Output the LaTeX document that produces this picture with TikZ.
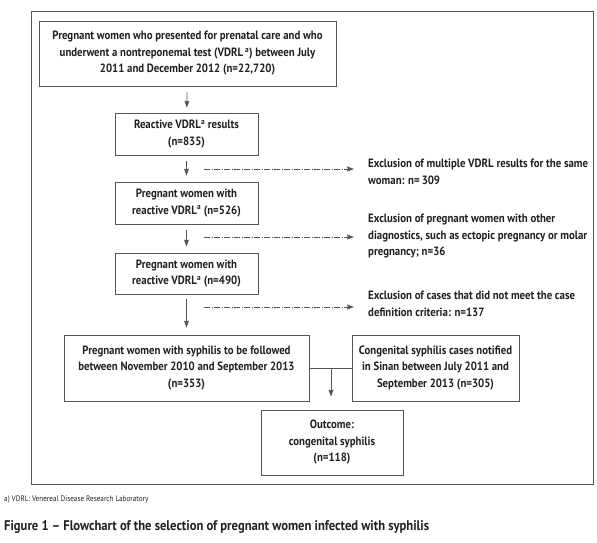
\documentclass[tikz,border=0pt]{standalone}
\usepackage{fontspec}
\setmainfont{PT Sans}[FakeStretch=0.9]
\usepackage{xcolor}
\usepackage{tikz}
\usetikzlibrary{arrows.meta,positioning,calc}
\definecolor{linegray}{HTML}{555555}
\definecolor{inktext}{HTML}{231F20}
\tikzset{
  fluxbox/.style={draw=linegray,line width=0.8pt,align=center,inner sep=0pt,text=inktext,font=\bfseries\fontsize{12}{16.5}\selectfont},
  esclab/.style={anchor=west,align=left,inner sep=0pt,text=inktext,font=\bfseries\fontsize{12}{16.8}\selectfont},
  fluxarr/.style={-{Stealth[length=7pt,width=5pt,inset=1pt]},linegray,line width=0.7pt},
  escarr/.style={-{Stealth[length=7pt,width=5pt,inset=1pt]},linegray,line width=0.6pt,dash pattern=on 6pt off 1.5pt on 1pt off 1.5pt},
  uniline/.style={linegray,line width=0.7pt}
}

\begin{document}
\begin{tikzpicture}[x=1pt,y=-1pt,>=latex]
  \useasboundingbox (0,0) rectangle (597,542);
  \node[draw=linegray,line width=0.8pt,minimum width=562pt,minimum height=473pt,inner sep=0pt] (frame) at (312,247.5) {};
  % flusso principale
  \node[fluxbox,minimum width=297pt,minimum height=65pt] (tot) at (187.5,53.5) {Pregnant women who presented for prenatal care and who\\ underwent a nontreponemal test (VDRL\,\textsuperscript{a}) between July\\ 2011 and December 2012 (n=22,720)};
  \node[fluxbox,minimum width=143pt,minimum height=42pt] (reat) at (186.5,134) {Reactive VDRL\textsuperscript{a} results\\ (n=835)};
  \node[fluxbox,minimum width=143pt,minimum height=42pt] (ges1) at (186.5,203) {Pregnant women with\\ reactive VDRL\textsuperscript{a} (n=526)};
  \node[fluxbox,minimum width=143pt,minimum height=41pt] (ges2) at (186.5,273.5) {Pregnant women with\\ reactive VDRL\textsuperscript{a} (n=490)};
  \node[fluxbox,minimum width=245pt,minimum height=66pt] (sif) at (186.5,368) {Pregnant women with syphilis to be followed\\ between November 2010 and September 2013\\ (n=353)};
  \node[fluxbox,minimum width=167pt,minimum height=66pt] (sinan) at (435.5,368) {Congenital syphilis cases notified\\ in Sinan between July 2011 and\\ September 2013 (n=305)};
  \node[fluxbox,minimum width=142pt,minimum height=65pt] (esito) at (332,442.5) {Outcome:\\ congenital syphilis\\ (n=118)};
  % esclusioni
  \node[esclab] (esc1) at (368,172) {Exclusion of multiple VDRL results for the same\\ woman: n=\,309};
  \node[esclab] (esc2) at (368,236) {Exclusion of pregnant women with other\\ diagnostics, such as ectopic pregnancy or molar\\ pregnancy; n=36};
  \node[esclab] (esc3) at (368,304) {Exclusion of cases that did not meet the case\\ definition criteria: n=137};
  \coordinate (d1) at (204,169);
  \coordinate (d2) at (204,237);
  \coordinate (d3) at (204,307);
  \coordinate (m) at (331,368);
  \draw[fluxarr,shorten <=6pt,shorten >=5pt] (tot) -- (reat);
  \draw[fluxarr,shorten <=6pt,shorten >=6pt] (reat) -- (ges1);
  \draw[fluxarr,shorten <=6pt,shorten >=6pt] (ges1) -- (ges2);
  \draw[fluxarr,shorten <=5pt,shorten >=7pt] (ges2) -- (sif);
  \draw[escarr,shorten >=14pt] (d1) -- (d1 -| esc1.west);
  \draw[escarr,shorten >=14pt] (d2) -- (d2 -| esc2.west);
  \draw[escarr,shorten >=14pt] (d3) -- (d3 -| esc3.west);
  \draw[uniline] (sif.east) -- (sinan.west);
  \draw[fluxarr,shorten >=13pt] (m) -- (esito.north -| m);
  % note
  \node[anchor=west,inner sep=0pt,text=inktext,font=\fontsize{8}{9}\selectfont] (nota) at (4,500) {a) VDRL: Venereal Disease Research Laboratory};
  \node[anchor=west,inner sep=0pt,text=inktext,font=\bfseries\fontsize{14}{16}\selectfont] (titolo) at (4,527) {Figure 1 -- Flowchart of the selection of pregnant women infected with syphilis};
\end{tikzpicture}
\end{document}
